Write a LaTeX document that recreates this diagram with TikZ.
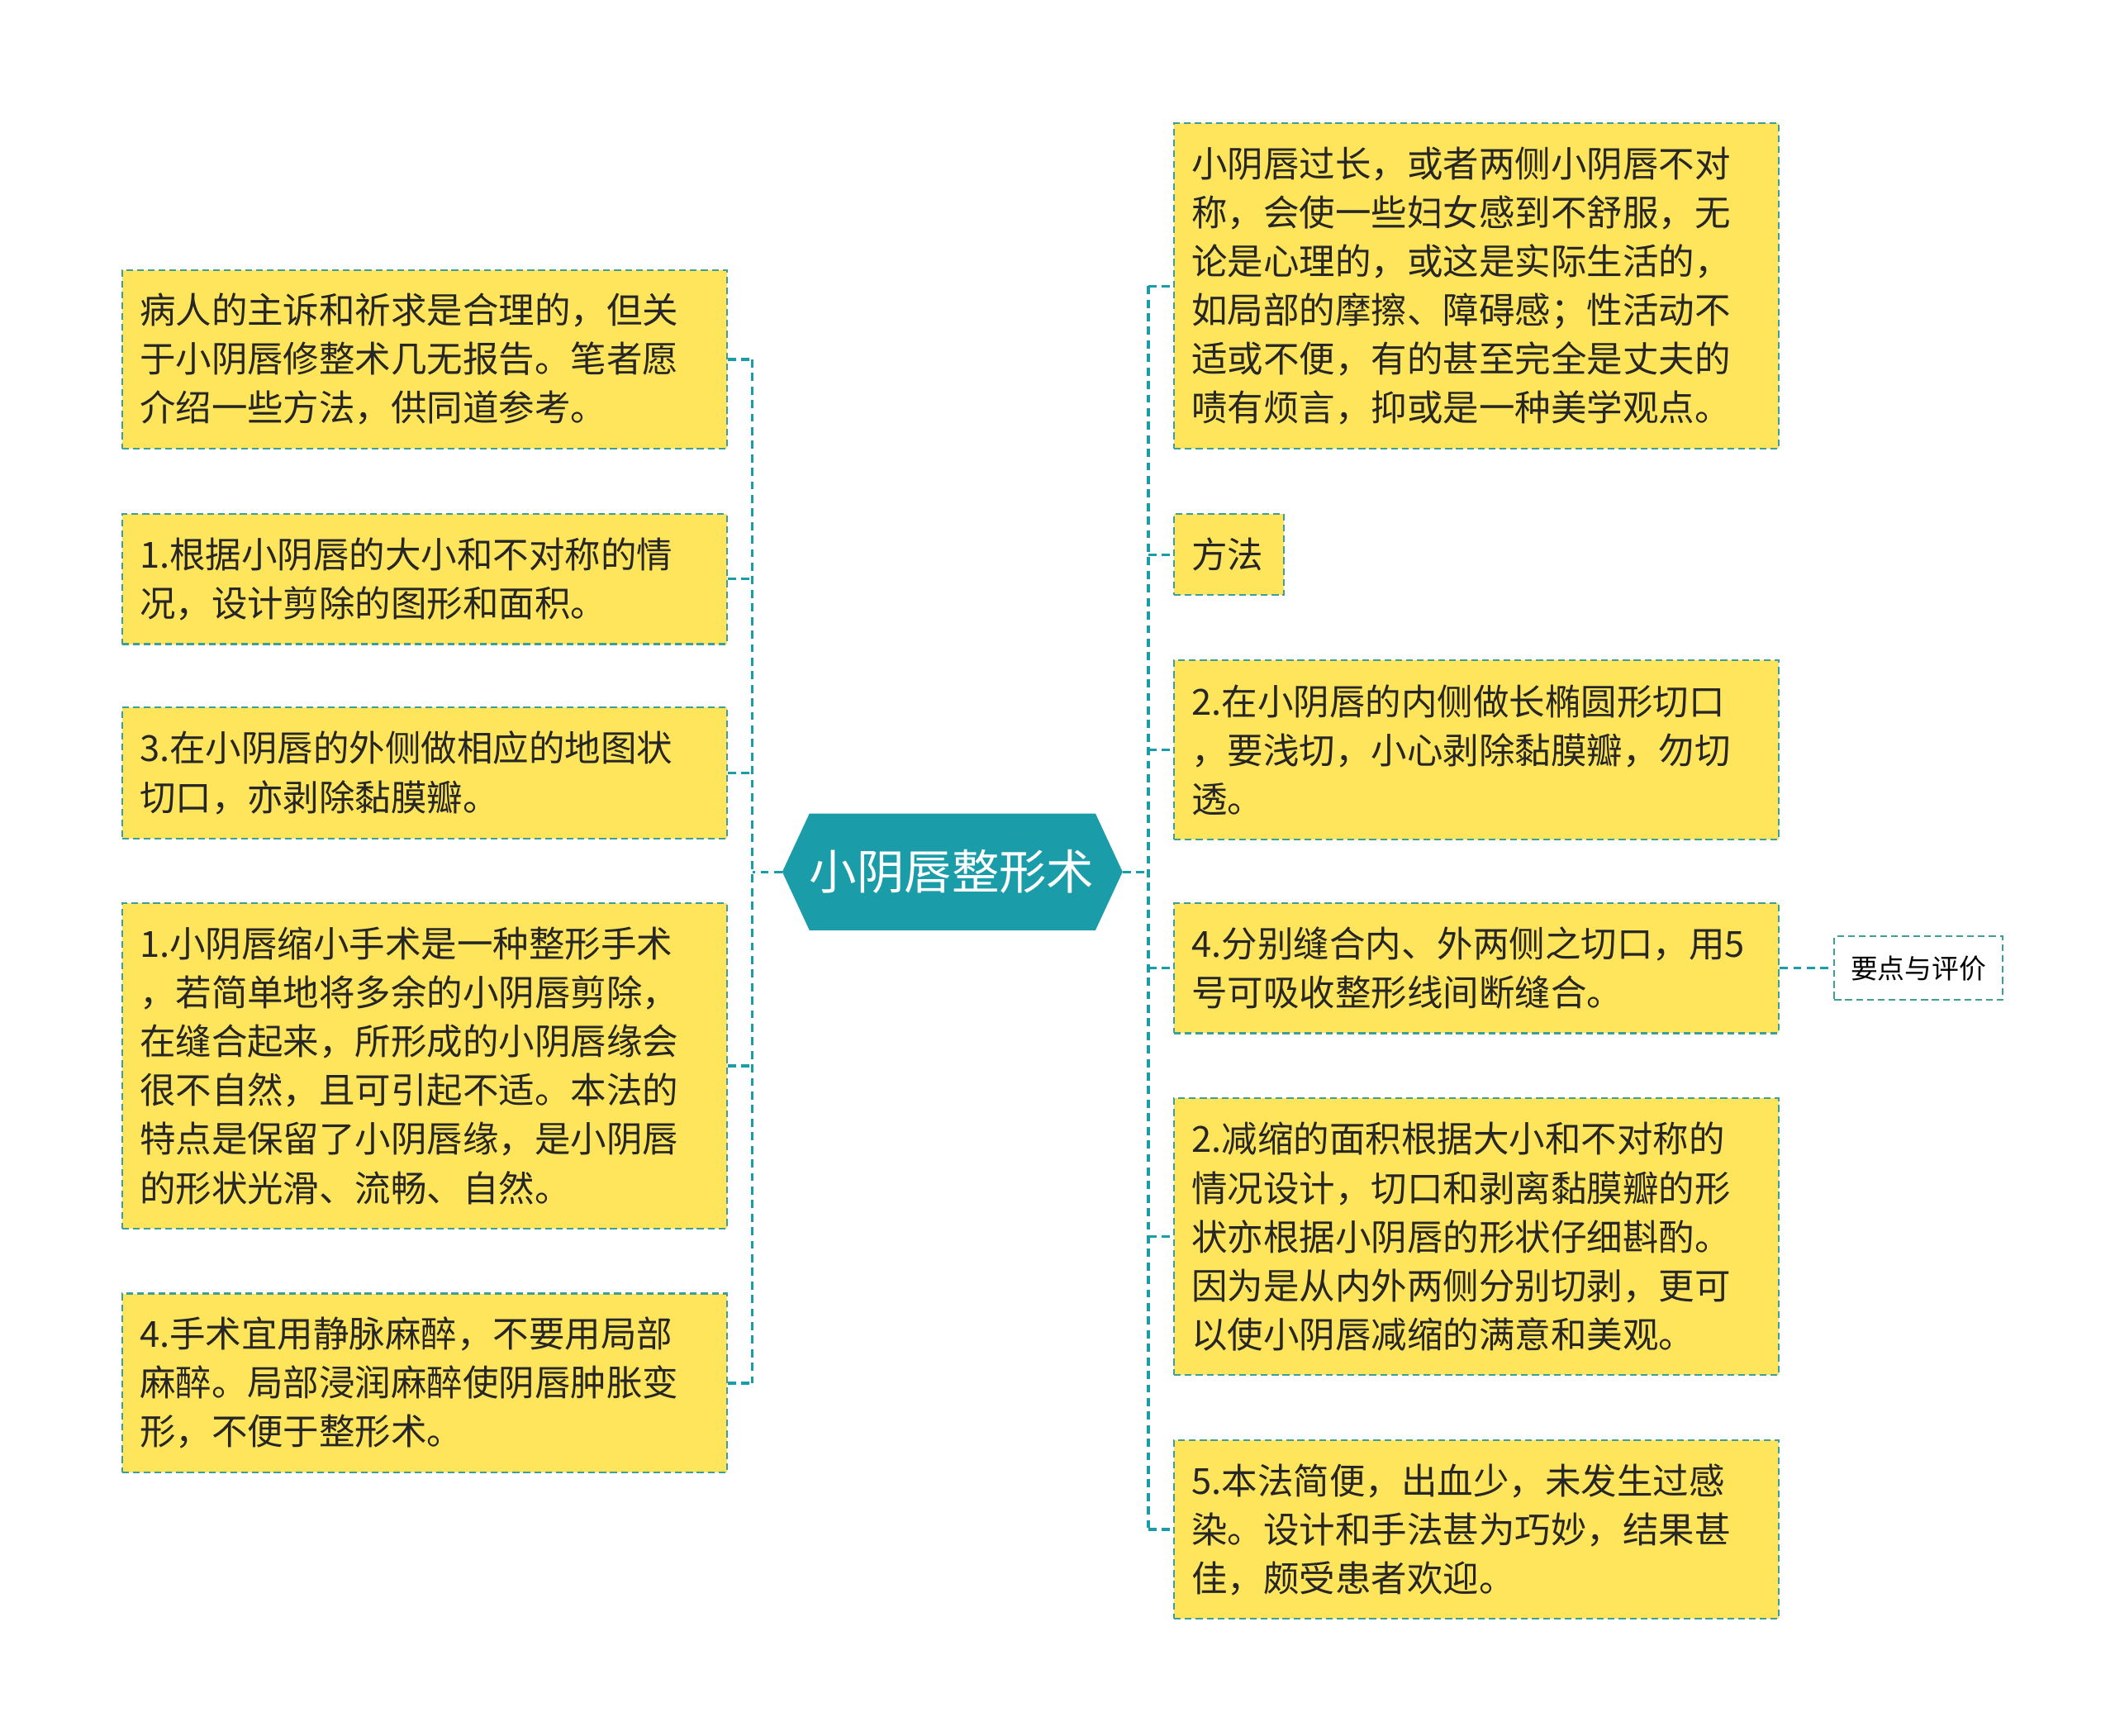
\documentclass[tikz,border=0pt]{standalone}
\usepackage{fontspec}
\setmainfont{Noto Sans CJK SC}
\definecolor{boxfill}{HTML}{FFE55C}
\definecolor{teal}{HTML}{1A9DA8}
\definecolor{bord}{HTML}{3E9E9A}
\begin{document}
\begin{tikzpicture}[x=1pt,y=-1pt,
  box/.style={draw=bord,fill=boxfill,dash pattern=on 5pt off 3pt,line width=1.3pt,
    text width=420pt,align=left,inner sep=13pt,font=\fontsize{26.5}{36}\selectfont,text=black!85,minimum width=444pt},
  conn/.style={draw=teal,line width=2pt,dash pattern=on 6pt off 4pt}]
\useasboundingbox (0,0) rectangle (1560,1280);
\fill[teal] (577,643) -- (597,600) -- (808,600) -- (828,643) -- (808,686) -- (597,686) -- cycle;
\node[text=white,font=\fontsize{35}{40}\selectfont] (ct) at (702,643) {小阴唇整形术};
\coordinate (cl) at (577,643);
\coordinate (cr) at (828,643);
% left
\node[box,minimum height=132pt] (l1) at (313,265) {病人的主诉和祈求是合理的，但关\\于小阴唇修整术几无报告。笔者愿\\介绍一些方法，供同道参考。};
\node[box,minimum height=96pt] (l2) at (313,427) {1.根据小阴唇的大小和不对称的情\\况，设计剪除的图形和面积。};
\node[box,minimum height=97pt] (l3) at (313,570) {3.在小阴唇的外侧做相应的地图状\\切口，亦剥除黏膜瓣。};
\node[box,minimum height=240pt] (l4) at (313,786) {1.小阴唇缩小手术是一种整形手术\\，若简单地将多余的小阴唇剪除，\\在缝合起来，所形成的小阴唇缘会\\很不自然，且可引起不适。本法的\\特点是保留了小阴唇缘，是小阴唇\\的形状光滑、流畅、自然。};
\node[box,minimum height=132pt] (l5) at (313,1020) {4.手术宜用静脉麻醉，不要用局部\\麻醉。局部浸润麻醉使阴唇肿胀变\\形，不便于整形术。};
% right
\node[box,minimum height=240pt] (r1) at (1089,211) {小阴唇过长，或者两侧小阴唇不对\\称，会使一些妇女感到不舒服，无\\论是心理的，或这是实际生活的，\\如局部的摩擦、障碍感；性活动不\\适或不便，有的甚至完全是丈夫的\\啧有烦言，抑或是一种美学观点。};
\node[box,text width=55pt,minimum width=79pt,minimum height=60pt] (r2) at (906.5,409) {方法};
\node[box,minimum height=132pt] (r3) at (1089,553) {2.在小阴唇的内侧做长椭圆形切口\\，要浅切，小心剥除黏膜瓣，勿切\\透。};
\node[box,minimum height=96pt] (r4) at (1089,714) {4.分别缝合内、外两侧之切口，用5\\号可吸收整形线间断缝合。};
\node[box,minimum height=204pt] (r5) at (1089,912) {2.减缩的面积根据大小和不对称的\\情况设计，切口和剥离黏膜瓣的形\\状亦根据小阴唇的形状仔细斟酌。\\因为是从内外两侧分别切剥，更可\\以使小阴唇减缩的满意和美观。};
\node[box,minimum height=132pt] (r6) at (1089,1128) {5.本法简便，出血少，未发生过感\\染。设计和手法甚为巧妙，结果甚\\佳，颇受患者欢迎。};
\node[draw=bord,dash pattern=on 5pt off 3pt,line width=1.3pt,fill=white,minimum width=124pt,minimum height=47pt,inner sep=4pt,font=\fontsize{20}{24}\selectfont] (k) at (1415,714) {要点与评价};
% connectors
\draw[conn] (cl) -- (555,643);
\foreach \n in {l1,l2,l3,l4,l5} \draw[conn] (\n.east) -- (\n.east -| 555,0);
\draw[conn] (555,265) -- (555,1020);
\draw[conn] (cr) -- (847,643);
\draw[conn] (847,211) -- (847,1128);
\foreach \n in {r1,r2,r3,r4,r5,r6} \draw[conn] (\n.west -| 847,0) -- (\n.west);
\draw[conn] (r4.east) -- (k.west);
\end{tikzpicture}
\end{document}
